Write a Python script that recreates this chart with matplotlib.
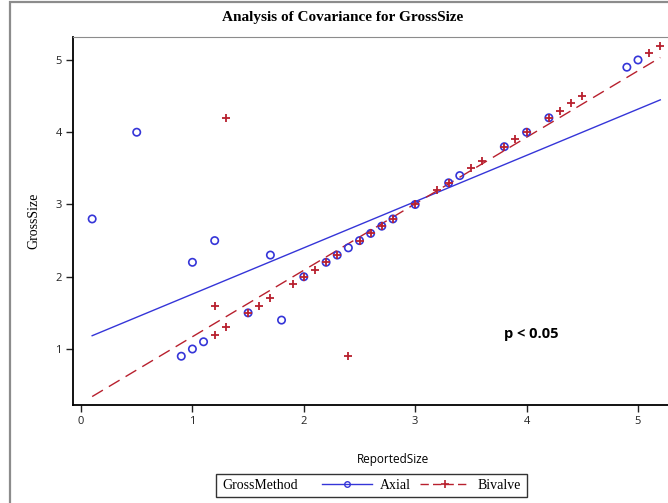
import matplotlib.pyplot as plt
from matplotlib.lines import Line2D
from matplotlib.patches import Rectangle
import numpy as np

# observed values per method
axial_x = [0.1, 0.5, 0.9, 1.0, 1.0, 1.1, 1.2, 1.5, 1.7, 1.8, 2.0, 2.2, 2.3,
           2.4, 2.5, 2.6, 2.7, 2.8, 3.0, 3.3, 3.4, 3.8, 4.0, 4.2, 4.9, 5.0]
axial_y = [2.8, 4.0, 0.9, 1.0, 2.2, 1.1, 2.5, 1.5, 2.3, 1.4, 2.0, 2.2, 2.3,
           2.4, 2.5, 2.6, 2.7, 2.8, 3.0, 3.3, 3.4, 3.8, 4.0, 4.2, 4.9, 5.0]
bival_x = [1.2, 1.2, 1.3, 1.3, 1.5, 1.6, 1.7, 1.9, 2.0, 2.1, 2.2, 2.3, 2.4,
           2.5, 2.6, 2.7, 2.8, 3.0, 3.2, 3.3, 3.5, 3.6, 3.8, 3.9, 4.0, 4.2,
           4.3, 4.4, 4.5, 5.1, 5.2]
bival_y = [1.2, 1.6, 1.3, 4.2, 1.5, 1.6, 1.7, 1.9, 2.0, 2.1, 2.2, 2.3, 0.9,
           2.5, 2.6, 2.7, 2.8, 3.0, 3.2, 3.3, 3.5, 3.6, 3.8, 3.9, 4.0, 4.2,
           4.3, 4.4, 4.5, 5.1, 5.2]

# fitted lines (intercept, slope)
axial_fit = [1.12, 0.64]
bival_fit = [0.25, 0.92]
fit_range = [0.1, 5.2]

blue = '#3535d8'
red = '#b8202e'
serif = ['Liberation Serif', 'DejaVu Serif']
sans = ['Open Sans', 'DejaVu Sans']

W, H = 668, 503
fig = plt.figure(figsize=(W / 100, H / 100), dpi=100)

# outer gray frame
fig.patches.append(Rectangle((9.5 / W, -0.1), 1.2, 1 - 1.5 / H + 0.1,
                             transform=fig.transFigure, fill=False,
                             edgecolor='#8c8c8c', lw=1.6))

ax = fig.add_axes([73 / W, 98 / H, 640 / W, 368 / H])
ax.set_xlim(-0.072, (713 - 81) / 111.4)
ax.set_ylim(0.225, 5.318)

xs = np.array(fit_range)
ax.plot(xs, axial_fit[0] + axial_fit[1] * xs, color=blue, lw=1.0)
ax.plot(xs, bival_fit[0] + bival_fit[1] * xs, color=red, lw=1.0,
        dashes=(9, 5))

ax.scatter(axial_x, axial_y, s=28, facecolors='none', edgecolors=blue,
           linewidths=1.2, zorder=3)
ax.scatter(bival_x, bival_y, s=36, marker='+', color=red, linewidths=1.3,
           zorder=4)

ax.set_xticks([0, 1, 2, 3, 4, 5])
ax.set_yticks([1, 2, 3, 4, 5])
ax.tick_params(direction='out', length=5, width=1, labelsize=8, pad=3,
               colors='#222222')
for lab in ax.get_xticklabels() + ax.get_yticklabels():
    lab.set_family(sans)
ax.spines['right'].set_visible(False)
ax.spines['top'].set_color('#8c8c8c')
for side in ['left', 'bottom']:
    ax.spines[side].set_linewidth(1.3)

ax.set_xlabel('ReportedSize', family=sans, fontsize=8.5, labelpad=19)
ax.set_ylabel('GrossSize', family=serif, fontsize=10, labelpad=11)

ax.text(3.80, 1.15, 'p < 0.05', family=sans, fontsize=10.5,
        fontweight='bold')

fig.text(343 / W, 1 - 18 / H, 'Analysis of Covariance for GrossSize',
         family=serif, fontsize=11, fontweight='bold', ha='center',
         va='center')

# legend: boxed, group name inline before the entries
fig.patches.append(Rectangle((216 / W, 1 - 497 / H), 311 / W, 23 / H,
                             transform=fig.transFigure, fill=False,
                             edgecolor='#333333', lw=1.0))
fig.text(222 / W, 1 - 485.5 / H, 'GrossMethod', family=serif, fontsize=10,
         va='center')
handles = [
    Line2D([], [], color=blue, lw=1.0, marker='o', markersize=4,
           markerfacecolor='none', markeredgecolor=blue),
    Line2D([], [], color=red, lw=1.0, dashes=(6, 3), marker='+',
           markersize=6, markeredgewidth=1.2),
]
fig.legend(handles, ['Axial', 'Bivalve'], loc='center left',
           bbox_to_anchor=(322 / W, 1 - 485.5 / H), ncol=2, frameon=False,
           handlelength=3.6, handletextpad=0.6, columnspacing=0.6,
           borderpad=0.0, borderaxespad=0.0,
           prop={'family': serif, 'size': 10})

fig.savefig('out.png', dpi=100)
